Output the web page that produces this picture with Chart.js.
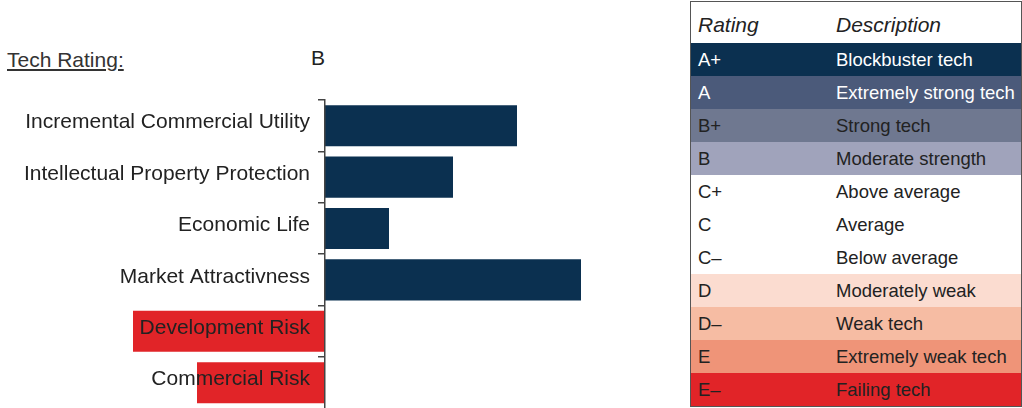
<!DOCTYPE html>
<html>
<head>
<meta charset="utf-8">
<script src="https://cdn.jsdelivr.net/npm/chart.js@4.4.1/dist/chart.umd.min.js"></script>
<style>
    body { margin: 0; width: 1022px; height: 408px; overflow: hidden; background: #fff;
           font-family: "Liberation Sans", Arial, sans-serif; color: #222; position: relative; }
    #chartBox { position: absolute; left: 0; top: 0; width: 650px; height: 429px; }
    #techTitle { position: absolute; left: 7px; top: 48px; font-size: 21px; color: #333; text-decoration: underline; }
    #techValue { position: absolute; left: 311px; top: 46px; font-size: 21px; color: #222; }
    #ratingTable { position: absolute; left: 690px; top: 1px; width: 332px; border-collapse: collapse;
                   border: 1px solid #555; font-size: 18.5px; }
    #ratingTable td, #ratingTable th { padding: 0 0 0 7px; height: 33px; text-align: left; font-weight: normal; white-space: nowrap; }
    #ratingTable th { font-style: italic; font-size: 21px; height: 37px; padding-top: 4px; }
    #ratingTable td:first-child, #ratingTable th:first-child { width: 131px; }
</style>
</head>
<body>
<div id="techTitle">Tech Rating:</div>
<div id="techValue">B</div>
<div id="chartBox"><canvas id="chart_rating"></canvas></div>
<table id="ratingTable"></table>

<script>
const categories = ['Incremental Commercial Utility', 'Intellectual Property Protection', 'Economic Life',
    'Market Attractivness', 'Development Risk', 'Commercial Risk'];
const scores = [3, 2, 1, 4, -3, -2];

const ratings = ['A+', 'A', 'B+', 'B', 'C+', 'C', 'C\u2013', 'D', 'D\u2013', 'E', 'E\u2013'];
const descriptions = ['Blockbuster tech', 'Extremely strong tech', 'Strong tech', 'Moderate strength',
    'Above average', 'Average', 'Below average', 'Moderately weak', 'Weak tech', 'Extremely weak tech', 'Failing tech'];
const rowColors = ['#0b3050', '#4b5a7a', '#6f7890', '#a0a3bb', '#fff', '#fff', '#fff',
    '#fbdcd0', '#f6bca3', '#ef9478', '#e12428'];
const rowText = ['#fff', '#fff', '#222', '#222', '#222', '#222', '#222', '#222', '#222', '#222', '#222'];

// rating table
const table = document.getElementById('ratingTable');
let html = '<tr><th>Rating</th><th>Description</th></tr>';
for (let i = 0; i < ratings.length; i++) {
    html += '<tr style="background:' + rowColors[i] + ';color:' + rowText[i] + '"><td>' + ratings[i] + '</td><td>' + descriptions[i] + '</td></tr>';
}
table.innerHTML = html;

const barColors = scores.map(v => v >= 0 ? '#0b3050' : '#e12428');

const ctx = document.getElementById('chart_rating').getContext('2d');
const myChart = new Chart(ctx, {
    type: 'bar',
    data: {
        labels: categories,
        datasets: [{
            data: scores,
            backgroundColor: barColors,
            borderWidth: 0,
            categoryPercentage: 0.8,
            barPercentage: 1,
            clip: false   // risk bars reach left of the axis, under the labels
        }]
    },
    options: {
        indexAxis: 'y',
        responsive: true,
        maintainAspectRatio: false,
        animation: false,
        layout: { padding: { left: 5, right: 5, top: 100, bottom: 1 } },
        plugins: { legend: { display: false }, tooltip: { enabled: false } },
        scales: {
            x: {
                display: false,
                min: 0,
                max: 5
            },
            y: {
                position: 'left',
                afterFit: scale => { scale.width = 320; },
                border: { display: true, color: '#444', width: 1.5, z: 1 },
                grid: { drawOnChartArea: false, tickLength: 7, color: '#444', lineWidth: 1.5, z: 1 },
                ticks: {
                    z: 1,
                    color: '#222',
                    padding: 8,
                    labelOffset: -3,
                    font: { family: '"Liberation Sans", Arial, sans-serif', size: 21 }
                }
            }
        }
    }
});
</script>
</body>
</html>
